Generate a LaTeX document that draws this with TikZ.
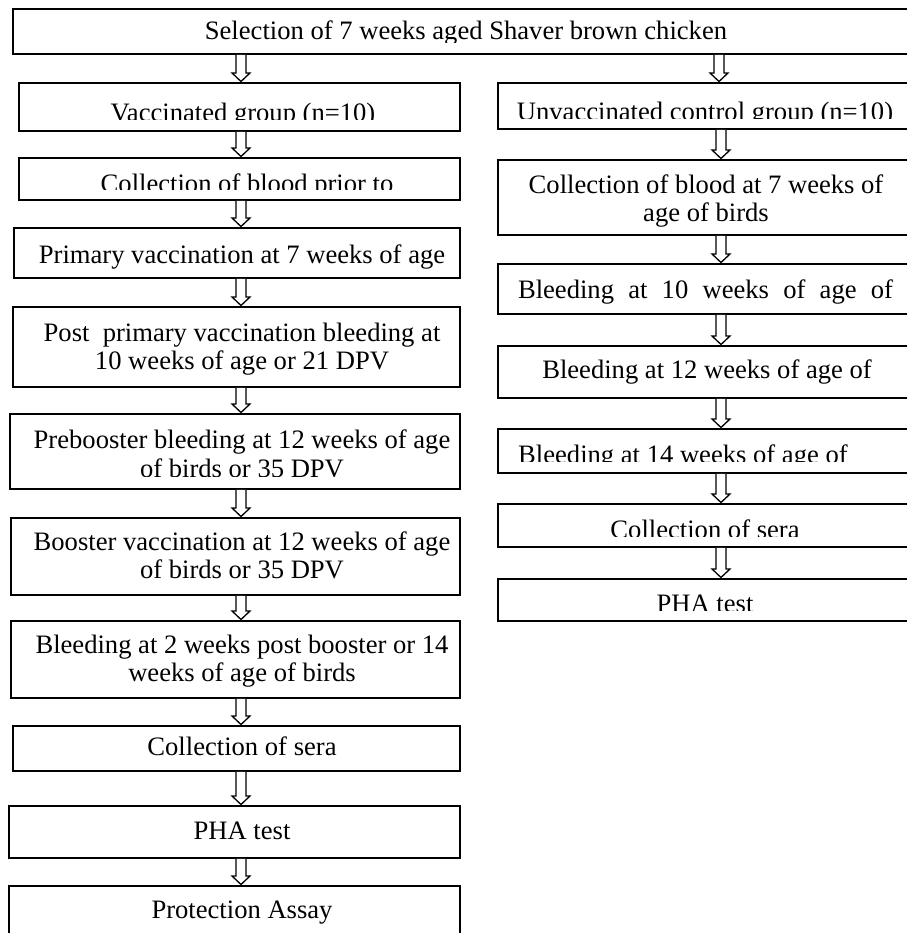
\documentclass[tikz,border=0pt]{standalone}
\usepackage{fontspec}
\setmainfont{Liberation Serif}
\usetikzlibrary{calc}
\tikzset{
  boxshape/.style={draw, line width=1.8pt, rectangle, inner sep=0pt, anchor=north west},
  txt/.style={inner sep=0pt, anchor=base, font=\fontsize{26.6}{28}\selectfont},
  txtl/.style={txt, anchor=base west},
  arrowline/.style={draw, line width=1.3pt, fill=white, line join=miter},
}
% box by corners: name, x1, y1, x2, y2
\newcommand\flowbox[5]{%
  \node[boxshape, minimum width={(#4-#2)*1pt}, minimum height={(#5-#3)*1pt}] (#1) at (#2,#3) {};}
% hollow arrow: x, source node, target node
\newcommand\hollowarrow[3]{%
  \draw[arrowline] let \p1=(#2.south), \p2=(#3.north) in
   ({#1pt-5pt},\y1) -- ({#1pt-5pt},{\y2+9pt}) -- ({#1pt-9pt},{\y2+9pt}) --
   (#1pt,{\y2+0.5pt}) -- ({#1pt+9pt},{\y2+9pt}) -- ({#1pt+5pt},{\y2+9pt}) --
   ({#1pt+5pt},\y1);}
\begin{document}
\begin{tikzpicture}[x=1pt,y=-1pt]
\useasboundingbox (0,0) rectangle (906,933);
% ---------- boxes ----------
\flowbox{top}{12}{8}{922}{53}
\flowbox{b1}{18}{82}{459}{130}
\flowbox{b2}{18}{157}{459}{199}
\flowbox{b3}{13}{227}{459}{277}
\flowbox{b4}{12}{306}{459}{386}
\flowbox{b5}{9}{413}{459}{488}
\flowbox{b6}{10}{517}{459}{594}
\flowbox{b7}{10}{620}{459}{697}
\flowbox{b8}{12}{725}{459}{770}
\flowbox{b9}{8}{805}{459}{857}
\flowbox{b10}{8}{885}{459}{945}
\flowbox{r1}{497}{82}{932}{128}
\flowbox{r2}{497}{159}{932}{234}
\flowbox{r3}{497}{263}{932}{313}
\flowbox{r4}{497}{345}{932}{397}
\flowbox{r5}{497}{428}{932}{472}
\flowbox{r6}{497}{503}{932}{546}
\flowbox{r7}{497}{578}{932}{620}
% ---------- texts ----------
\begin{scope}\clip (12,8) rectangle (922,43);
\node[txt] (ttop) at (466,40) {Selection of 7 weeks aged Shaver brown chicken};
\end{scope}
\begin{scope}\clip (18,82) rectangle (459,120);
\node[txt] (tb1) at (243,122) {Vaccinated group (n=10)};
\end{scope}
\begin{scope}\clip (18,157) rectangle (459,190);
\node[txt] (tb2) at (247,193) {Collection of blood prior to};
\end{scope}
\node[txt] (tb3) at (242,263) {Primary vaccination at 7 weeks of age};
\node[txt] (tb4a) at (242,341) {Post\ \ primary vaccination bleeding at};
\node[txt] (tb4b) at (242,369) {10 weeks of age or 21 DPV};
\node[txt] (tb5a) at (242,448) {Prebooster bleeding at 12 weeks of age};
\begin{scope}\clip (9,455) rectangle (459,476);
\node[txt] (tb5b) at (242,477) {of birds or 35 DPV};
\end{scope}
\node[txt] (tb6a) at (242,550) {Booster vaccination at 12 weeks of age};
\node[txt] (tb6b) at (242,578) {of birds or 35 DPV};
\node[txt] (tb7a) at (242,653) {Bleeding at 2 weeks post booster or 14};
\node[txt] (tb7b) at (242,681) {weeks of age of birds};
\node[txt] (tb8) at (242,755) {Collection of sera};
\node[txt] (tb9) at (242,839) {PHA test};
\node[txt] (tb10) at (242,918) {Protection Assay};
\begin{scope}\clip (497,82) rectangle (932,119);
\node[txt] (tr1) at (705,121) {Unvaccinated control group (n=10)};
\end{scope}
\node[txt] (tr2a) at (706,194) {Collection of blood at 7 weeks of};
\node[txt] (tr2b) at (706,222) {age of birds};
\node[txt] (tr3) at (705.5,298) {\makebox[375pt][s]{Bleeding at 10 weeks of age of}};
\node[txt] (tr4) at (707,378) {Bleeding at 12 weeks of age of};
\begin{scope}\clip (497,428) rectangle (932,461);
\node[txtl] (tr5) at (518,463) {Bleeding at 14 weeks of age of};
\end{scope}
\begin{scope}\clip (497,503) rectangle (932,536);
\node[txt] (tr6) at (705,538) {Collection of sera};
\end{scope}
\begin{scope}\clip (497,578) rectangle (932,610);
\node[txt] (tr7) at (705,612) {PHA test};
\end{scope}
% ---------- arrows ----------
\hollowarrow{241}{top}{b1}
\hollowarrow{719}{top}{r1}
\hollowarrow{241}{b1}{b2}
\hollowarrow{241}{b2}{b3}
\hollowarrow{241}{b3}{b4}
\hollowarrow{241}{b4}{b5}
\hollowarrow{241}{b5}{b6}
\hollowarrow{241}{b6}{b7}
\hollowarrow{241}{b7}{b8}
\hollowarrow{241}{b8}{b9}
\hollowarrow{241}{b9}{b10}
\hollowarrow{721}{r1}{r2}
\hollowarrow{721}{r2}{r3}
\hollowarrow{721}{r3}{r4}
\hollowarrow{721}{r4}{r5}
\hollowarrow{721}{r5}{r6}
\hollowarrow{721}{r6}{r7}
\end{tikzpicture}
\end{document}
